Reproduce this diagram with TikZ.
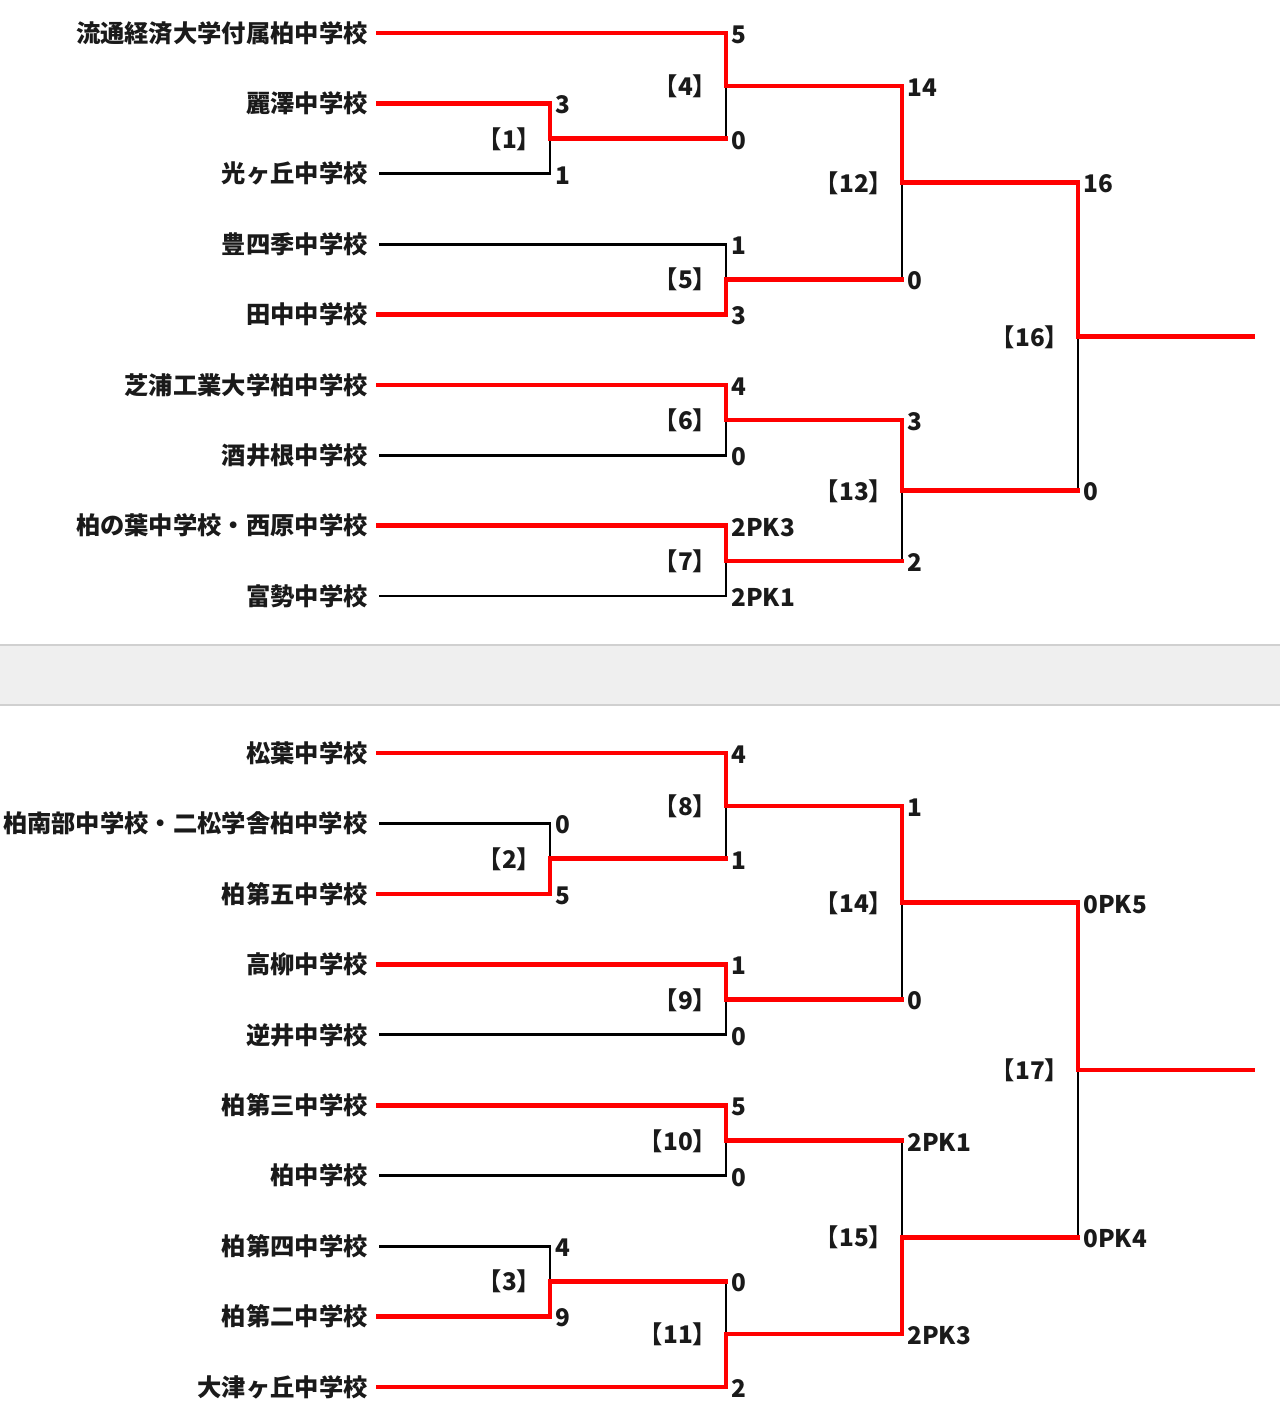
\documentclass[tikz,border=0pt]{standalone}
\usepackage{fontspec}
\setmainfont{Noto Sans CJK JP}
\definecolor{winred}{HTML}{FF0000}
\definecolor{bandfill}{HTML}{EFEFEF}
\definecolor{bandline}{HTML}{D0D0D0}
\definecolor{txt}{HTML}{1A1A1A}
\begin{document}
\begin{tikzpicture}[x=0.5pt,y=-0.5pt,
  lbl/.style={inner sep=0pt,text=txt,font=\bfseries\fontsize{12.15pt}{14pt}\selectfont},
  team/.style={lbl,anchor=east},
  score/.style={lbl,anchor=west,xshift=2.5pt,yshift=-0.8pt},
  mlabel/.style={lbl,anchor=east,xshift=-4.25pt,yshift=-0.2pt},
  win/.style={draw=winred,line width=2.3pt,line cap=rect,line join=miter},
  lose/.style={draw=black,line width=1.4pt,line cap=rect,line join=miter}]
\useasboundingbox (0,0) rectangle (1280,1425);
\fill[white] (0,0) rectangle (1280,1425);
% separator band
\fill[bandfill] (0,645) rectangle (1280,705);
\draw[bandline,line width=0.75pt] (0,645) -- (1280,645);
\draw[bandline,line width=0.75pt] (0,705) -- (1280,705);

% ---------------- top bracket ----------------
\node[team] (t1) at (368,33) {流通経済大学付属柏中学校};
\node[team] (t2) at (368,103.4) {麗澤中学校};
\node[team] (t3) at (368,173.8) {光ヶ丘中学校};
\node[team] (t4) at (368,244.1) {豊四季中学校};
\node[team] (t5) at (368,314.5) {田中中学校};
\node[team] (t6) at (368,384.9) {芝浦工業大学柏中学校};
\node[team] (t7) at (368,455.3) {酒井根中学校};
\node[team] (t8) at (368,525.6) {柏の葉中学校・西原中学校};
\node[team] (t9) at (368,596) {富勢中学校};

\coordinate (m1) at (550,138.6);
\coordinate (m4) at (726,85.8);
\coordinate (m5) at (726,279.3);
\coordinate (m6) at (726,420.1);
\coordinate (m7) at (726,560.8);
\coordinate (m12) at (902,182.55);
\coordinate (m13) at (902,490.45);
\coordinate (m16) at (1078,336.5);
\coordinate (f16) at (1253,336.5);

\coordinate (m1a) at (m1 |- t2.east);
\coordinate (m1b) at (m1 |- t3.east);
\coordinate (m4a) at (m4 |- t1.east);
\coordinate (m4b) at (m4 |- m1);
\coordinate (m5a) at (m5 |- t4.east);
\coordinate (m5b) at (m5 |- t5.east);
\coordinate (m6a) at (m6 |- t6.east);
\coordinate (m6b) at (m6 |- t7.east);
\coordinate (m7a) at (m7 |- t8.east);
\coordinate (m7b) at (m7 |- t9.east);
\coordinate (m12a) at (m12 |- m4);
\coordinate (m12b) at (m12 |- m5);
\coordinate (m13a) at (m13 |- m6);
\coordinate (m13b) at (m13 |- m7);
\coordinate (m16a) at (m16 |- m12);
\coordinate (m16b) at (m16 |- m13);

% losers
\draw[lose] ([xshift=6pt]t3.east) -- (m1b) -- (m1);
\draw[lose] (m4b) -- (m4);
\draw[lose] ([xshift=6pt]t4.east) -- (m5a) -- (m5);
\draw[lose] ([xshift=6pt]t7.east) -- (m6b) -- (m6);
\draw[lose] ([xshift=6pt]t9.east) -- (m7b) -- (m7);
\draw[lose] (m12b) -- (m12);
\draw[lose] (m13b) -- (m13);
\draw[lose] (m16b) -- (m16);
% winners
\draw[win] ([xshift=5pt]t2.east) -- (m1a) -- (m1) -- (m4b);
\draw[win] ([xshift=5pt]t1.east) -- (m4a) -- (m4) -- (m12a);
\draw[win] ([xshift=5pt]t5.east) -- (m5b) -- (m5) -- (m12b);
\draw[win] ([xshift=5pt]t6.east) -- (m6a) -- (m6) -- (m13a);
\draw[win] ([xshift=5pt]t8.east) -- (m7a) -- (m7) -- (m13b);
\draw[win] (m12a) -- (m12) -- (m16a);
\draw[win] (m13a) -- (m13) -- (m16b);
\draw[win] (m16a) -- (m16) -- (f16);

% scores
\node[score] (s1a) at (m1a) {3};
\node[score] (s1b) at (m1b) {1};
\node[score] (s4a) at (m4a) {5};
\node[score] (s4b) at (m4b) {0};
\node[score] (s5a) at (m5a) {1};
\node[score] (s5b) at (m5b) {3};
\node[score] (s6a) at (m6a) {4};
\node[score] (s6b) at (m6b) {0};
\node[score] (s7a) at (m7a) {2PK3};
\node[score] (s7b) at (m7b) {2PK1};
\node[score] (s12a) at (m12a) {14};
\node[score] (s12b) at (m12b) {0};
\node[score] (s13a) at (m13a) {3};
\node[score] (s13b) at (m13b) {2};
\node[score] (s16a) at (m16a) {16};
\node[score] (s16b) at (m16b) {0};
% match labels
\node[mlabel] (l1) at (m1) {【1】};
\node[mlabel] (l4) at (m4) {【4】};
\node[mlabel] (l5) at (m5) {【5】};
\node[mlabel] (l6) at (m6) {【6】};
\node[mlabel] (l7) at (m7) {【7】};
\node[mlabel] (l12) at (m12) {【12】};
\node[mlabel] (l13) at (m13) {【13】};
\node[mlabel] (l16) at (m16) {【16】};

% ---------------- bottom bracket ----------------
\node[team] (u1) at (368,753) {松葉中学校};
\node[team] (u2) at (368,823.4) {柏南部中学校・二松学舎柏中学校};
\node[team] (u3) at (368,893.9) {柏第五中学校};
\node[team] (u4) at (368,964.3) {高柳中学校};
\node[team] (u5) at (368,1034.8) {逆井中学校};
\node[team] (u6) at (368,1105.2) {柏第三中学校};
\node[team] (u7) at (368,1175.6) {柏中学校};
\node[team] (u8) at (368,1246.1) {柏第四中学校};
\node[team] (u9) at (368,1316.5) {柏第二中学校};
\node[team] (u10) at (368,1387) {大津ヶ丘中学校};

\coordinate (m2) at (550,858.65);
\coordinate (m8) at (726,805.8);
\coordinate (m9) at (726,999.55);
\coordinate (m14) at (902,902.7);
\coordinate (m10) at (726,1140.4);
\coordinate (m3) at (550,1281.3);
\coordinate (m11) at (726,1334.15);
\coordinate (m15) at (902,1237.3);
\coordinate (m17) at (1078,1070);
\coordinate (f17) at (1253,1070);

\coordinate (m2a) at (m2 |- u2.east);
\coordinate (m2b) at (m2 |- u3.east);
\coordinate (m8a) at (m8 |- u1.east);
\coordinate (m8b) at (m8 |- m2);
\coordinate (m9a) at (m9 |- u4.east);
\coordinate (m9b) at (m9 |- u5.east);
\coordinate (m14a) at (m14 |- m8);
\coordinate (m14b) at (m14 |- m9);
\coordinate (m10a) at (m10 |- u6.east);
\coordinate (m10b) at (m10 |- u7.east);
\coordinate (m3a) at (m3 |- u8.east);
\coordinate (m3b) at (m3 |- u9.east);
\coordinate (m11a) at (m11 |- m3);
\coordinate (m11b) at (m11 |- u10.east);
\coordinate (m15a) at (m15 |- m10);
\coordinate (m15b) at (m15 |- m11);
\coordinate (m17a) at (m17 |- m14);
\coordinate (m17b) at (m17 |- m15);

% losers
\draw[lose] ([xshift=6pt]u2.east) -- (m2a) -- (m2);
\draw[lose] (m8b) -- (m8);
\draw[lose] ([xshift=6pt]u5.east) -- (m9b) -- (m9);
\draw[lose] (m14b) -- (m14);
\draw[lose] ([xshift=6pt]u7.east) -- (m10b) -- (m10);
\draw[lose] ([xshift=6pt]u8.east) -- (m3a) -- (m3);
\draw[lose] (m11a) -- (m11);
\draw[lose] (m15a) -- (m15);
\draw[lose] (m17b) -- (m17);
% winners
\draw[win] ([xshift=5pt]u3.east) -- (m2b) -- (m2) -- (m8b);
\draw[win] ([xshift=5pt]u1.east) -- (m8a) -- (m8) -- (m14a);
\draw[win] ([xshift=5pt]u4.east) -- (m9a) -- (m9) -- (m14b);
\draw[win] (m14a) -- (m14) -- (m17a);
\draw[win] ([xshift=5pt]u6.east) -- (m10a) -- (m10) -- (m15a);
\draw[win] ([xshift=5pt]u9.east) -- (m3b) -- (m3) -- (m11a);
\draw[win] ([xshift=5pt]u10.east) -- (m11b) -- (m11) -- (m15b);
\draw[win] (m15b) -- (m15) -- (m17b);
\draw[win] (m17a) -- (m17) -- (f17);

% scores
\node[score] (s2a) at (m2a) {0};
\node[score] (s2b) at (m2b) {5};
\node[score] (s8a) at (m8a) {4};
\node[score] (s8b) at (m8b) {1};
\node[score] (s9a) at (m9a) {1};
\node[score] (s9b) at (m9b) {0};
\node[score] (s14a) at (m14a) {1};
\node[score] (s14b) at (m14b) {0};
\node[score] (s10a) at (m10a) {5};
\node[score] (s10b) at (m10b) {0};
\node[score] (s3a) at (m3a) {4};
\node[score] (s3b) at (m3b) {9};
\node[score] (s11a) at (m11a) {0};
\node[score] (s11b) at (m11b) {2};
\node[score] (s15a) at (m15a) {2PK1};
\node[score] (s15b) at (m15b) {2PK3};
\node[score] (s17a) at (m17a) {0PK5};
\node[score] (s17b) at (m17b) {0PK4};
% match labels
\node[mlabel] (l2) at (m2) {【2】};
\node[mlabel] (l8) at (m8) {【8】};
\node[mlabel] (l9) at (m9) {【9】};
\node[mlabel] (l14) at (m14) {【14】};
\node[mlabel] (l10) at (m10) {【10】};
\node[mlabel] (l3) at (m3) {【3】};
\node[mlabel] (l11) at (m11) {【11】};
\node[mlabel] (l15) at (m15) {【15】};
\node[mlabel] (l17) at (m17) {【17】};
\end{tikzpicture}
\end{document}
